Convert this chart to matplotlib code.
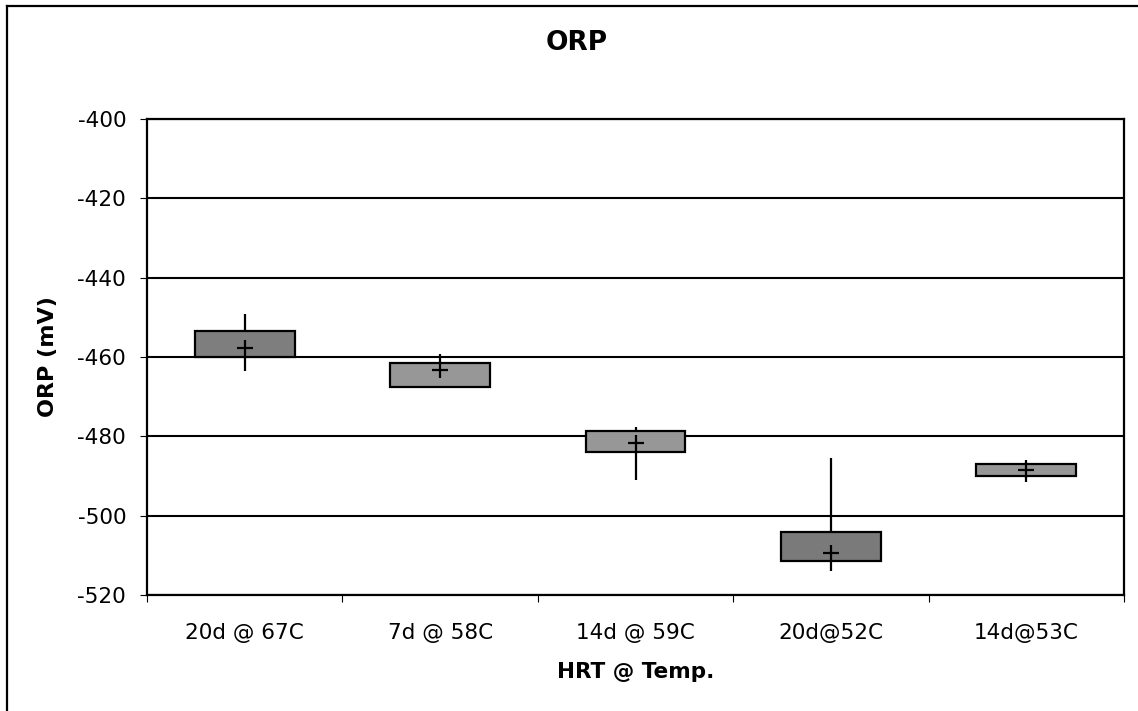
import matplotlib
matplotlib.use("Agg")
import matplotlib.pyplot as plt
from matplotlib.lines import Line2D
import numpy as np

categories = ['20d @ 67C', '7d @ 58C', '14d @ 59C', '20d@52C', '14d@53C']
box_high = [-453.4, -461.5, -478.7, -504.1, -487.0]
box_low = [-460.0, -467.6, -484.0, -511.4, -490.0]
whisk_high = [-449.2, -459.2, -477.6, -485.5, -486.0]
whisk_low = [-463.5, -465.0, -491.0, -514.0, -491.5]
means = [-457.7, -463.3, -481.7, -509.4, -488.5]
box_colors = ['#7e7e7e', '#979797', '#979797', '#7a7a7a', '#979797']
yticks = [-520, -500, -480, -460, -440, -420, -400]

plt.rcParams['font.family'] = ['DejaVu Sans']

fig = plt.figure(figsize=(11.38, 7.11), dpi=100)
ax = fig.add_axes([147/1138, 1 - 595/711, (1124-147)/1138, (595-119)/711])

x = np.arange(len(categories))
ax.vlines(x, whisk_low, whisk_high, color='black', lw=1.6, zorder=2)
ax.bar(x, np.array(box_high) - np.array(box_low), bottom=box_low, width=0.51,
       color=box_colors, edgecolor='black', linewidth=1.6, zorder=3)
ax.plot(x, means, linestyle='none', marker='+', markersize=11, mew=1.6,
        color='black', zorder=4)

ax.set_xlim(-0.5, len(categories) - 0.5)
ax.set_ylim(-520, -400)
ax.set_yticks(yticks)
ax.set_yticklabels([str(v) for v in yticks])
ax.yaxis.grid(True, color='black', lw=1.5)
ax.set_axisbelow(True)

ax.set_xticks(x)
ax.set_xticklabels(categories)
ax.set_xticks(np.arange(-0.5, len(categories)), minor=True)
ax.tick_params(axis='x', which='major', length=0, pad=20, labelsize=15.5)
ax.tick_params(axis='x', which='minor', length=5, width=0.8, direction='out')
ax.tick_params(axis='y', length=5, width=0.8, direction='out', pad=10, labelsize=15.5)

for s in ax.spines.values():
    s.set_linewidth(1.6)
    s.set_color('black')

ax.set_ylabel('ORP (mV)', fontsize=16, fontweight='bold', labelpad=14)
ax.set_xlabel('HRT @ Temp.', fontsize=15.5, fontweight='bold', labelpad=14)
fig.text(577/1138, 1 - 43/711, 'ORP', fontsize=19, fontweight='bold',
         ha='center', va='center')

# outer chart border (left and top)
fig.add_artist(Line2D([7/1138, 7/1138], [0, 1 - 6/711], color='black', lw=1.6,
                      transform=fig.transFigure))
fig.add_artist(Line2D([7/1138, 1], [1 - 6/711, 1 - 6/711], color='black', lw=1.6,
                      transform=fig.transFigure))

fig.savefig('out.png', dpi=100)
